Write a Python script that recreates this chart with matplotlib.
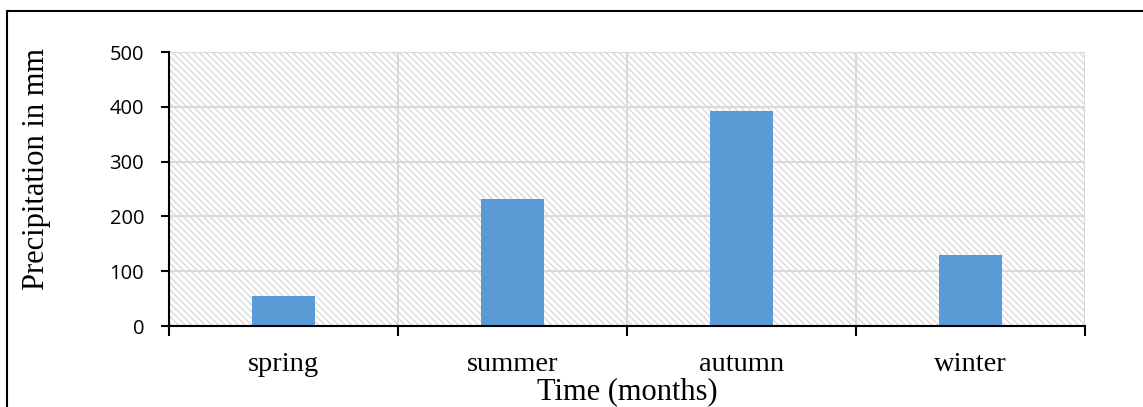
import matplotlib.pyplot as plt
from matplotlib.patches import Rectangle

# Seasonal precipitation totals
seasons = ["spring", "summer", "autumn", "winter"]
precip = [55, 232, 393, 130]
yticks = [0, 100, 200, 300, 400, 500]

fig = plt.figure(figsize=(11.43, 4.07), dpi=100)
ax = fig.add_axes([0.1479, 0.199, 0.8014, 0.673])

# outer frame of the figure
fig.patches.append(Rectangle((0.006, -0.1), 1.2, 1.073, transform=fig.transFigure,
                             fill=False, edgecolor='black', linewidth=1.5))

# hatched plot background
plt.rcParams['hatch.linewidth'] = 1.0
plt.rcParams['hatch.color'] = '#e3e3e3'
ax.add_patch(Rectangle((0, 0), 1, 1, transform=ax.transAxes, facecolor='white',
                       edgecolor='#d9d9d9', hatch='\\' * 5, linewidth=1.5, zorder=0))

x = range(len(seasons))
ax.bar(x, precip, width=0.275, color='#5b9bd5', zorder=3)

ax.set_xlim(-0.5, len(seasons) - 0.5)
ax.set_ylim(0, 500)
ax.set_yticks(yticks)
ax.set_yticklabels([str(v) for v in yticks], family='Open Sans', fontsize=14.5)

# category labels centred, ticks on the boundaries
ax.set_xticks([i - 0.5 for i in range(len(seasons) + 1)])
ax.set_xticklabels([])
ax.set_xticks(list(x), minor=True)
ax.set_xticklabels(seasons, minor=True, family='Liberation Serif', fontsize=20.5)
ax.tick_params(axis='x', which='minor', length=0, pad=19)
ax.tick_params(axis='x', which='major', length=7, width=1.5, direction='out')
ax.tick_params(axis='y', length=6, width=1.5, direction='out', pad=12)

ax.grid(True, which='major', color='#d9d9d9', linewidth=1.5, zorder=1)
ax.set_axisbelow(True)

for s in ['top', 'right']:
    ax.spines[s].set_visible(False)
for s in ['left', 'bottom']:
    ax.spines[s].set_linewidth(1.5)
    ax.spines[s].set_zorder(4)

ax.set_xlabel('Time (months)', family='Liberation Serif', fontsize=22, labelpad=0)
ax.set_ylabel('Precipitation in mm', family='Liberation Serif', fontsize=22)
ax.yaxis.set_label_coords(-0.1286, 0.575)

fig.savefig('out.png', dpi=100)
